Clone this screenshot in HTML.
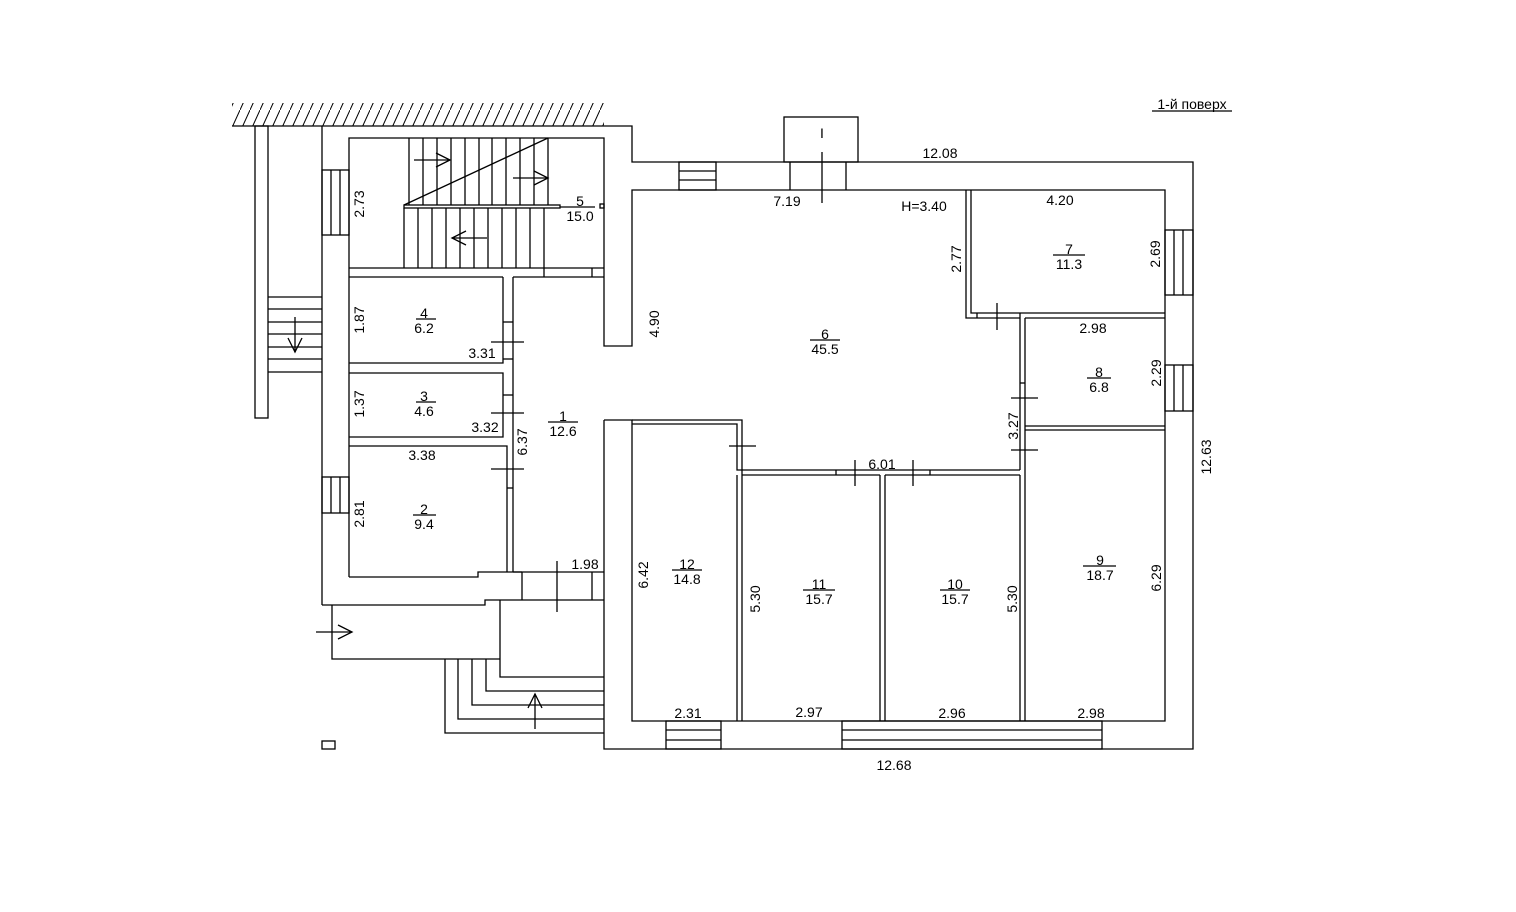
<!DOCTYPE html>
<html><head><meta charset="utf-8"><style>html,body{margin:0;padding:0;background:#fff}svg{display:block}text{font-family:"Liberation Sans",sans-serif;font-size:14px;fill:#000}</style></head><body>
<svg width="1516" height="912" viewBox="0 0 1516 912" xmlns="http://www.w3.org/2000/svg">
<defs><pattern id="h" width="10" height="22" patternUnits="userSpaceOnUse"><line x1="0" y1="22" x2="10" y2="0" stroke="#000" stroke-width="1"/></pattern></defs>
<rect x="232" y="103" width="372" height="23" fill="url(#h)"/>
<g fill="none" stroke="#000" stroke-width="1.3">
<polyline points="232,126 632,126 632,162 1193,162 1193,749 604,749 604,420"/>
<rect x="255" y="126" width="13" height="292"/>
<line x1="322" y1="126" x2="322" y2="605"/>
<polyline points="322,605 485,605 485,600 604,600"/>
<polyline points="349,577 349,138 604,138 604,346 632,346 632,190 1165,190 1165,721 632,721 632,420 604,420"/>
<line x1="349" y1="268" x2="604" y2="268"/>
<line x1="349" y1="277" x2="503" y2="277"/>
<line x1="513" y1="277" x2="604" y2="277"/>
<line x1="544" y1="268" x2="544" y2="277"/><line x1="592" y1="268" x2="592" y2="277"/>
<polyline points="503,277 503,363 349,363"/>
<polyline points="349,373 503,373 503,437 349,437"/>
<polyline points="349,446 507,446 507,572"/>
<polyline points="349,577 478,577 478,572 522,572"/>
<line x1="513" y1="277" x2="513" y2="572"/>
<line x1="513" y1="572" x2="604" y2="572"/>
<line x1="503" y1="322" x2="513" y2="322"/><line x1="503" y1="359" x2="513" y2="359"/>
<line x1="503" y1="395" x2="513" y2="395"/>
<line x1="507" y1="488" x2="513" y2="488"/>
<line x1="522" y1="572" x2="522" y2="600"/>
<line x1="592" y1="572" x2="592" y2="600"/>
<polyline points="332,605 332,659 500,659"/>
<polyline points="500,600 500,677 604,677"/>
<polyline points="486,659 486,691 604,691"/>
<polyline points="472,659 472,705 604,705"/>
<polyline points="458,659 458,719 604,719"/>
<polyline points="445,659 445,733 604,733"/>
<rect x="322" y="741" width="13" height="8"/>
<rect x="322" y="170" width="27" height="65"/><line x1="331" y1="170" x2="331" y2="235"/><line x1="340" y1="170" x2="340" y2="235"/>
<rect x="322" y="477" width="27" height="36"/><line x1="331" y1="477" x2="331" y2="513"/><line x1="340" y1="477" x2="340" y2="513"/>
<polyline points="268,297 322,297"/><line x1="268" y1="309" x2="322" y2="309"/><line x1="268" y1="322" x2="322" y2="322"/><line x1="268" y1="334" x2="322" y2="334"/><line x1="268" y1="347" x2="322" y2="347"/><line x1="268" y1="359" x2="322" y2="359"/><line x1="268" y1="372" x2="322" y2="372"/>
<line x1="404" y1="205" x2="548" y2="138"/>
<rect x="404" y="205" width="156" height="3"/>
<line x1="404" y1="208" x2="404" y2="268"/>
<g>
<line x1="409" y1="138" x2="409" y2="205"/><line x1="423" y1="138" x2="423" y2="205"/><line x1="437" y1="138" x2="437" y2="205"/><line x1="451" y1="138" x2="451" y2="205"/><line x1="465" y1="138" x2="465" y2="205"/><line x1="479" y1="138" x2="479" y2="205"/><line x1="492" y1="138" x2="492" y2="205"/><line x1="506" y1="138" x2="506" y2="205"/><line x1="520" y1="138" x2="520" y2="205"/><line x1="534" y1="138" x2="534" y2="205"/><line x1="548" y1="138" x2="548" y2="205"/>
<line x1="418" y1="208" x2="418" y2="268"/><line x1="432" y1="208" x2="432" y2="268"/><line x1="446" y1="208" x2="446" y2="268"/><line x1="460" y1="208" x2="460" y2="268"/><line x1="474" y1="208" x2="474" y2="268"/><line x1="488" y1="208" x2="488" y2="268"/><line x1="502" y1="208" x2="502" y2="268"/><line x1="516" y1="208" x2="516" y2="268"/><line x1="530" y1="208" x2="530" y2="268"/><line x1="544" y1="208" x2="544" y2="268"/>
</g>
<rect x="600" y="204" width="4" height="4"/>
<rect x="784" y="117" width="74" height="45"/>
<line x1="790" y1="162" x2="790" y2="190"/><line x1="846" y1="162" x2="846" y2="190"/>
<rect x="679" y="162" width="37" height="28"/><line x1="679" y1="171" x2="716" y2="171"/><line x1="679" y1="180" x2="716" y2="180"/>
<polyline points="966,190 966,318 1020,318"/>
<polyline points="971,190 971,313 1165,313"/>
<line x1="1025" y1="318" x2="1165" y2="318"/>
<line x1="977" y1="313" x2="977" y2="318"/><line x1="1020" y1="313" x2="1020" y2="318"/>
<rect x="1165" y="230" width="28" height="65"/><line x1="1174" y1="230" x2="1174" y2="295"/><line x1="1183" y1="230" x2="1183" y2="295"/>
<rect x="1165" y="365" width="28" height="46"/><line x1="1174" y1="365" x2="1174" y2="411"/><line x1="1183" y1="365" x2="1183" y2="411"/>
<line x1="1020" y1="318" x2="1020" y2="470"/>
<line x1="1025" y1="318" x2="1025" y2="721"/>
<line x1="1025" y1="426" x2="1165" y2="426"/><line x1="1025" y1="430" x2="1165" y2="430"/>
<line x1="1020" y1="383" x2="1025" y2="383"/>
<polyline points="632,424 737,424 737,470 742,470 742,721"/>
<polyline points="632,420 742,420 742,470"/>
<line x1="742" y1="470" x2="1020" y2="470"/>
<line x1="742" y1="475" x2="880" y2="475"/><line x1="885" y1="475" x2="1020" y2="475"/>
<line x1="737" y1="721" x2="737" y2="475"/>
<line x1="880" y1="475" x2="880" y2="721"/><line x1="885" y1="475" x2="885" y2="721"/>
<line x1="1020" y1="475" x2="1020" y2="721"/>
<line x1="836" y1="470" x2="836" y2="475"/><line x1="930" y1="470" x2="930" y2="475"/>
<rect x="666" y="721" width="55" height="28"/><line x1="666" y1="730" x2="721" y2="730"/><line x1="666" y1="740" x2="721" y2="740"/>
<rect x="842" y="721" width="260" height="28"/><line x1="842" y1="730" x2="1102" y2="730"/><line x1="842" y1="740" x2="1102" y2="740"/>
<line x1="491" y1="342" x2="524" y2="342"/><line x1="491" y1="413" x2="524" y2="413"/><line x1="491" y1="469" x2="524" y2="469"/>
<line x1="557" y1="561" x2="557" y2="612"/>
<line x1="822" y1="152" x2="822" y2="203"/>
<line x1="729" y1="446" x2="756" y2="446"/>
<line x1="855" y1="460" x2="855" y2="486"/><line x1="913" y1="460" x2="913" y2="486"/>
<line x1="997" y1="303" x2="997" y2="330"/>
<line x1="1011" y1="398" x2="1038" y2="398"/><line x1="1011" y1="450" x2="1038" y2="450"/>
<line x1="414" y1="160" x2="450" y2="160"/><polyline points="436,153 450,160 436,167"/>
<line x1="513" y1="178" x2="548" y2="178"/><polyline points="534,171 548,178 534,185"/>
<line x1="487" y1="238" x2="452" y2="238"/><polyline points="466,231 452,238 466,245"/>
<line x1="295" y1="317" x2="295" y2="352"/><polyline points="288,338 295,352 302,338"/>
<line x1="316" y1="632" x2="352" y2="632"/><polyline points="338,625 352,632 338,639"/>
<line x1="535" y1="729" x2="535" y2="694"/><polyline points="528,708 535,694 542,708"/>
</g>
<g stroke="#000" stroke-width="1.2">
<line x1="416" y1="319" x2="436" y2="319"/><line x1="416" y1="402" x2="436" y2="402"/><line x1="413" y1="515" x2="436" y2="515"/>
<line x1="560" y1="207" x2="595" y2="207"/><line x1="548" y1="422" x2="578" y2="422"/>
<line x1="810" y1="340" x2="840" y2="340"/><line x1="1053" y1="255" x2="1085" y2="255"/><line x1="1087" y1="378" x2="1111" y2="378"/>
<line x1="1083" y1="566" x2="1116" y2="566"/><line x1="940" y1="590" x2="970" y2="590"/><line x1="803" y1="590" x2="835" y2="590"/><line x1="672" y1="570" x2="702" y2="570"/>
<line x1="1152" y1="111" x2="1232" y2="111"/>
</g>
<g text-anchor="middle">
<text x="424" y="318">4</text><text x="424" y="333">6.2</text>
<text x="424" y="401">3</text><text x="424" y="416">4.6</text>
<text x="424" y="514">2</text><text x="424" y="529">9.4</text>
<text x="580" y="206">5</text><text x="580" y="221">15.0</text>
<text x="563" y="421">1</text><text x="563" y="436">12.6</text>
<text x="825" y="339">6</text><text x="825" y="354">45.5</text>
<text x="1069" y="254">7</text><text x="1069" y="269">11.3</text>
<text x="1099" y="377">8</text><text x="1099" y="392">6.8</text>
<text x="1100" y="565">9</text><text x="1100" y="580">18.7</text>
<text x="955" y="589">10</text><text x="955" y="604">15.7</text>
<text x="819" y="589">11</text><text x="819" y="604">15.7</text>
<text x="687" y="569">12</text><text x="687" y="584">14.8</text>
<text x="482" y="358">3.31</text><text x="485" y="432">3.32</text><text x="422" y="460">3.38</text><text x="585" y="569">1.98</text>
<text x="940" y="158">12.08</text><text x="787" y="206">7.19</text><text x="924" y="211">H=3.40</text><text x="1060" y="205">4.20</text>
<text x="1093" y="333">2.98</text><text x="882" y="469">6.01</text>
<text x="688" y="718">2.31</text><text x="809" y="717">2.97</text><text x="952" y="718">2.96</text><text x="1091" y="718">2.98</text>
<text x="894" y="770">12.68</text>
<text x="1192" y="109">1-й поверх</text>
<text x="822" y="138">I</text>
</g>
<g text-anchor="middle">
<text transform="translate(364,204) rotate(-90)">2.73</text>
<text transform="translate(364,320) rotate(-90)">1.87</text>
<text transform="translate(364,404) rotate(-90)">1.37</text>
<text transform="translate(364,514) rotate(-90)">2.81</text>
<text transform="translate(527,442) rotate(-90)">6.37</text>
<text transform="translate(659,324) rotate(-90)">4.90</text>
<text transform="translate(961,259) rotate(-90)">2.77</text>
<text transform="translate(1160,254) rotate(-90)">2.69</text>
<text transform="translate(1161,373) rotate(-90)">2.29</text>
<text transform="translate(1018,426) rotate(-90)">3.27</text>
<text transform="translate(1211,457) rotate(-90)">12.63</text>
<text transform="translate(648,575) rotate(-90)">6.42</text>
<text transform="translate(760,599) rotate(-90)">5.30</text>
<text transform="translate(1017,599) rotate(-90)">5.30</text>
<text transform="translate(1161,578) rotate(-90)">6.29</text>
</g>
</svg>
</body></html>
